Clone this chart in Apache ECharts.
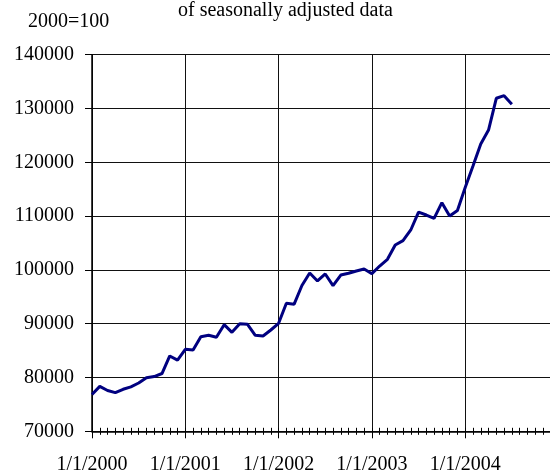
<!DOCTYPE html>
<html><head><meta charset="utf-8">
<script src="https://cdn.jsdelivr.net/npm/echarts@6/dist/echarts.min.js"></script>
<style>html,body{margin:0;padding:0;background:#fff}#c{width:550px;height:473px}</style>
</head><body><div id="c"></div>
<script>
// Monthly index values starting January 2000 (month index 0 = 1/1/2000)
const startYear = 2000;
const values = [76850, 78350, 77580, 77180, 77810, 78270, 78980, 79960, 80180, 80740, 84000, 83220,
  85240, 85100, 87590, 87840, 87470, 89820, 88400, 90000, 89890, 87840, 87710, 88830,
  90070, 93790, 93630, 97100, 99420, 97940, 99240, 97070, 99050, 99370, 99800, 100170,
  99300, 100720, 101970, 104630, 105430, 107420, 110730, 110200, 109590, 112490, 110020, 111040,
  115300, 119310, 123400, 126000, 131900, 132380, 130780];
const yTicks = [70000, 80000, 90000, 100000, 110000, 120000, 130000, 140000];
const xLabels = ['1/1/2000', '1/1/2001', '1/1/2002', '1/1/2003', '1/1/2004'];
const titleText = 'of seasonally adjusted data';
const unitText = '2000=100';

const data = values.map((v, i) => [i, v]);
const font = 'Liberation Serif';
const chart = echarts.init(document.getElementById('c'), null, {renderer: 'canvas'});
const gridLine = {show: true, lineStyle: {color: '#111', width: 1}};
chart.setOption({
  animation: false,
  grid: {left: 92, top: 54.7, bottom: 41.7, width: 466.5, outerBoundsMode: 'none', containLabel: false},
  graphic: [
    {type: 'text', left: 178, top: 1, style: {text: titleText, font: '20px "Liberation Serif"', fill: '#000'}},
    {type: 'text', left: 28, top: 12, style: {text: unitText, font: '20px "Liberation Serif"', fill: '#000'}}
  ],
  xAxis: [
    {type: 'value', min: 0, max: 60, interval: 12, position: 'bottom',
      axisLine: {show: true, onZero: false, lineStyle: {color: '#000', width: 1.5}},
      axisTick: {show: true, length: 7, lineStyle: {color: '#000', width: 1}},
      splitLine: gridLine,
      axisLabel: {show: true, margin: 23, fontFamily: font, fontSize: 20, color: '#000',
        formatter: v => xLabels[v / 12] || ''}},
    {type: 'value', min: 0, max: 60, interval: 1, position: 'bottom',
      axisLine: {show: false}, splitLine: {show: false}, axisLabel: {show: false},
      axisTick: {show: true, length: 3.5, lineStyle: {color: '#000', width: 1}}},
    {type: 'value', min: 0, max: 60, interval: 1, position: 'bottom',
      axisLine: {show: false}, splitLine: {show: false}, axisLabel: {show: false},
      axisTick: {show: true, inside: true, length: 3.5, lineStyle: {color: '#000', width: 1}}}
  ],
  yAxis: {type: 'value', min: yTicks[0], max: yTicks[yTicks.length - 1], interval: 10000,
    axisLine: {show: true, lineStyle: {color: '#000', width: 1.5}},
    axisTick: {show: true, length: 7, lineStyle: {color: '#000'}},
    splitLine: gridLine,
    axisLabel: {margin: 18, fontFamily: font, fontSize: 20, color: '#000', formatter: v => String(v)}},
  series: [{type: 'line', data: data, xAxisIndex: 0, showSymbol: false, symbol: 'none',
    lineStyle: {color: '#000080', width: 3}}]
});
</script></body></html>
